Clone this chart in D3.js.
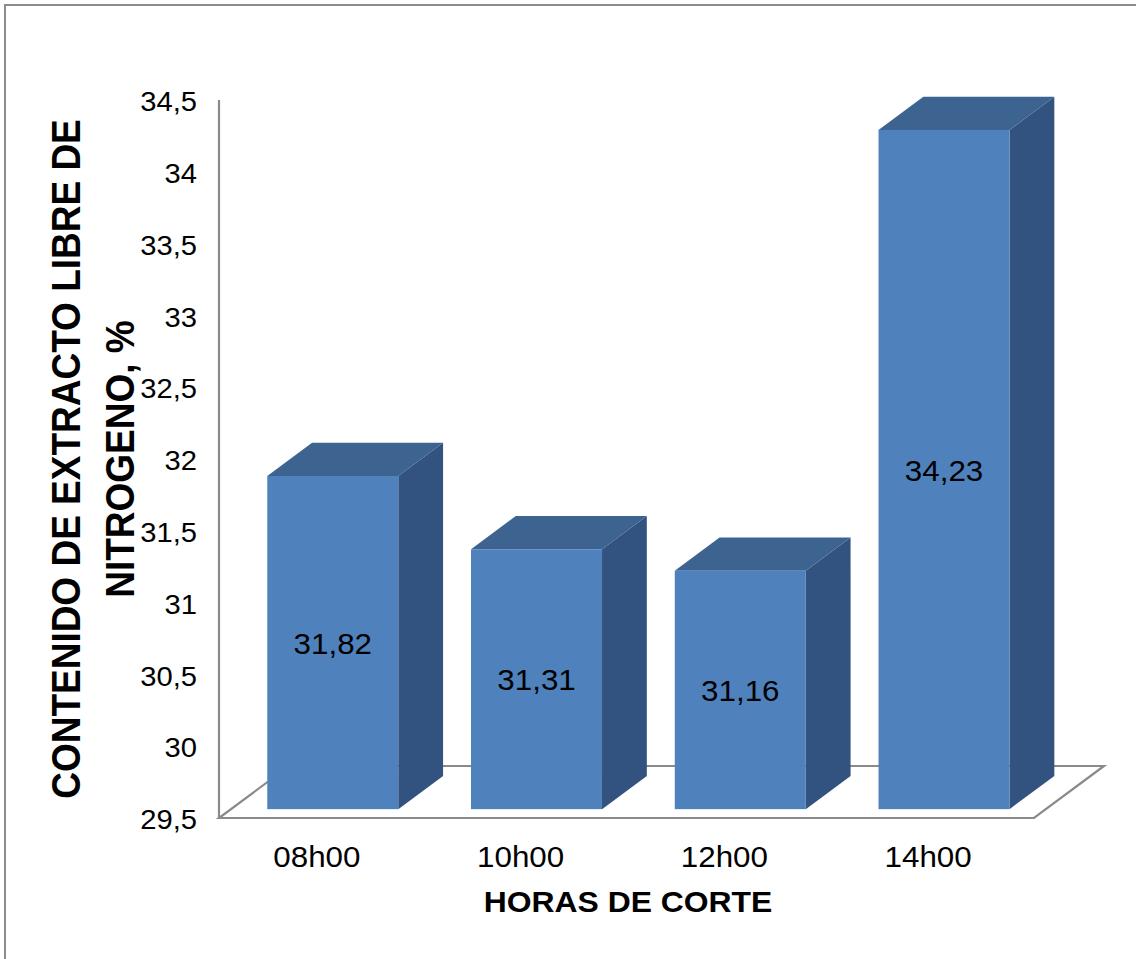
<!DOCTYPE html>
<html>
<head>
<meta charset="utf-8">
<script src="https://cdn.jsdelivr.net/npm/d3@7"></script>
<style>
  html, body { margin: 0; padding: 0; background: #fff; }
  svg { display: block; }
  text { font-family: "Liberation Sans", Arial, sans-serif; fill: #000; }
</style>
</head>
<body>
<svg id="chart" width="1136" height="959"></svg>
<script>
// Contenido de extracto libre de nitrógeno por hora de corte
const categories = ["08h00", "10h00", "12h00", "14h00"];
const values = [31.82, 31.31, 31.16, 34.23];
const valueLabels = ["31,82", "31,31", "31,16", "34,23"];
const tickValues = [29.5, 30, 30.5, 31, 31.5, 32, 32.5, 33, 33.5, 34, 34.5];
const tickLabels = ["29,5", "30", "30,5", "31", "31,5", "32", "32,5", "33", "33,5", "34", "34,5"];
const yTitleLines = ["CONTENIDO DE EXTRACTO LIBRE DE", "NITROGENO, %"];
const xTitle = "HORAS DE CORTE";

(function () {
  const svg = d3.select("#chart");

  // plot frame (front plane)
  const plotLeft = 219, plotRight = 1034, plotBottom = 818, plotTop = 100;
  // floor depth and bar depth placement
  const depthX = 70, depthY = 52;
  const barFront = 0.17, barBack = 0.81;
  // the text in this chart is slightly wide-set
  const widen = 1.08;

  const x = d3.scaleBand().domain(categories).range([plotLeft, plotRight])
    .paddingInner(0.357).paddingOuter(0.1785);
  const y = d3.scaleLinear().domain([29.5, 34.5]).range([plotBottom, plotTop]);

  const colFront = "#4F81BD", colTop = "#3D6391", colSide = "#32537F";
  const axisGray = "#8a8a8a";
  const pts = a => a.map(p => p.join(",")).join(" ");
  const place = (tx, ty) => `translate(${tx},${ty}) scale(${widen},1)`;

  // outer border
  svg.append("rect").attr("x", 5).attr("y", 5).attr("width", 1140).attr("height", 960)
    .attr("fill", "none").attr("stroke", "#8c8c8c").attr("stroke-width", 2);

  // floor
  const y0 = y(29.5);
  svg.append("polygon")
    .attr("points", pts([[plotLeft, y0], [plotRight, y0], [plotRight + depthX, y0 - depthY], [plotLeft + depthX, y0 - depthY]]))
    .attr("fill", "#fff").attr("stroke", axisGray).attr("stroke-width", 2.2);

  // vertical axis
  svg.append("line").attr("x1", plotLeft).attr("x2", plotLeft).attr("y1", y(34.5)).attr("y2", y0)
    .attr("stroke", axisGray).attr("stroke-width", 2.2);

  // tick labels
  svg.append("g").selectAll("text").data(tickValues).join("text")
    .attr("transform", d => place(197, y(d) + 2))
    .attr("text-anchor", "end").attr("dominant-baseline", "central")
    .attr("font-size", 27)
    .text((d, i) => tickLabels[i]);

  // bars
  const fx = depthX * barFront, fy = depthY * barFront;
  const ddx = depthX * (barBack - barFront), ddy = depthY * (barBack - barFront);
  const bw = x.bandwidth();

  const bars = svg.append("g").selectAll("g").data(values).join("g");
  bars.each(function (v, i) {
    const g = d3.select(this);
    const x0 = x(categories[i]) + fx;
    const yTop = y(v) - fy, yBot = y0 - fy;
    g.append("polygon").attr("fill", colSide)
      .attr("points", pts([[x0 + bw, yTop], [x0 + bw + ddx, yTop - ddy], [x0 + bw + ddx, yBot - ddy], [x0 + bw, yBot]]));
    g.append("polygon").attr("fill", colTop)
      .attr("points", pts([[x0, yTop], [x0 + bw, yTop], [x0 + bw + ddx, yTop - ddy], [x0 + ddx, yTop - ddy]]));
    g.append("rect").attr("fill", colFront)
      .attr("x", x0).attr("y", yTop).attr("width", bw).attr("height", yBot - yTop);
    g.append("text")
      .attr("transform", place(x0 + bw / 2, (yTop + yBot) / 2 + 1))
      .attr("text-anchor", "middle").attr("dominant-baseline", "central")
      .attr("font-size", 29)
      .text(valueLabels[i]);
  });

  // category labels
  svg.append("g").selectAll("text").data(categories).join("text")
    .attr("transform", d => place(x(d) + bw / 2 - 4, 867))
    .attr("text-anchor", "middle").attr("font-size", 29)
    .text(d => d);

  // axis titles
  svg.append("text").attr("transform", place(628, 912))
    .attr("text-anchor", "middle").attr("font-size", 29.5).attr("font-weight", "bold")
    .text(xTitle);

  const yTitle = svg.append("text")
    .attr("transform", `translate(0,459) scale(${widen},1) rotate(-90)`)
    .attr("text-anchor", "middle").attr("font-size", 37).attr("font-weight", "bold");
  yTitle.append("tspan").attr("x", 0).attr("y", 80 / widen).text(yTitleLines[0]);
  yTitle.append("tspan").attr("x", 0).attr("y", 134 / widen).text(yTitleLines[1]);
})();
</script>
</body>
</html>
